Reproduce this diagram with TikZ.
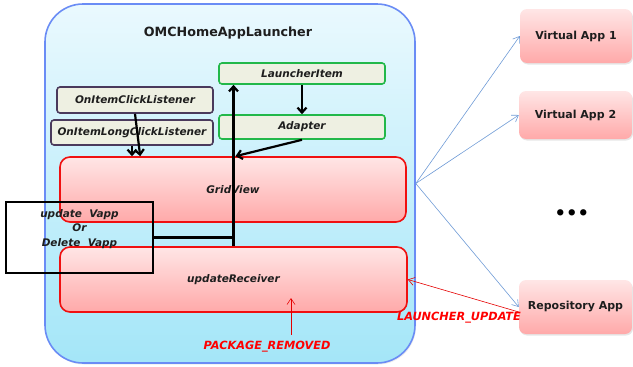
\documentclass[tikz,border=0pt]{standalone}
\usepackage{fontspec}
\setmainfont{DejaVu Sans}
\usetikzlibrary{arrows.meta,calc,shadows}
\definecolor{cyanfill}{HTML}{A4E6F8}
\definecolor{cyantop}{HTML}{EAF9FE}
\definecolor{frameblue}{HTML}{6A8CF5}
\definecolor{pinktop}{HTML}{FFE6E6}
\definecolor{pinkbot}{HTML}{FFA9A9}
\definecolor{boxred}{HTML}{F01010}
\definecolor{boxgreen}{HTML}{22B84A}
\definecolor{beige}{HTML}{EEF0E2}
\definecolor{plum}{HTML}{4A3A5C}
\definecolor{linkblue}{HTML}{6F9BD6}
\definecolor{ink}{HTML}{1E1E1E}
\tikzset{
  label font/.style={font=\bfseries\itshape\fontsize{10.5}{12}\selectfont, text=ink},
  container/.style={draw=frameblue, line width=1.6pt, rounded corners=38pt,
    top color=cyantop, bottom color=cyanfill, minimum width=370pt, minimum height=359pt},
  itembox/.style={draw=boxgreen, fill=beige, line width=1.6pt, rounded corners=3pt, label font},
  listenerbox/.style={draw=plum, fill=beige, line width=1.6pt, rounded corners=3pt, label font},
  viewbox/.style={draw=boxred, line width=1.6pt, rounded corners=10pt,
    top color=pinktop, bottom color=pinkbot, label font},
  appbox/.style={rounded corners=7pt, top color=pinktop, bottom color=pinkbot,
    font=\bfseries\fontsize{11}{13}\selectfont, text=ink,
    drop shadow={shadow xshift=1pt, shadow yshift=-1.5pt, opacity=0.2}},
  notebox/.style={draw=black, line width=2pt, align=center, label font},
  flow/.style={draw=black, line width=2.2pt, -{Straight Barb[length=5pt,width=9pt]}},
  plain/.style={draw=black, line width=2.2pt},
  bluelink/.style={draw=linkblue, line width=0.6pt, -{Straight Barb[length=6pt,width=8pt]}},
  redlink/.style={draw=red!90!black, line width=0.6pt, -{Straight Barb[length=6pt,width=8pt]}},
  intent/.style={font=\bfseries\itshape\fontsize{11.3}{13}\selectfont, text=red},
}
\begin{document}
\begin{tikzpicture}[x=1pt,y=-1pt]
\useasboundingbox (0,0) rectangle (633,367);

% launcher application frame
\node[container, drop shadow={shadow xshift=1pt, shadow yshift=-1.5pt, opacity=0.15}] (frame) at (230,183.5) {};
\node[font=\bfseries\fontsize{12.7}{15}\selectfont, text=ink] (title) at (228,33) {OMCHomeAppLauncher};

% data side
\node[itembox, minimum width=166pt, minimum height=21pt, inner sep=0pt] (launcher) at (302,73.5) {LauncherItem};
\node[itembox, minimum width=166pt, minimum height=24pt, inner sep=0pt] (adapter) at (302,127) {Adapter};

% listeners
\node[listenerbox, minimum width=156pt, minimum height=26pt, inner sep=0pt] (click) at (135,100) {OnItemClickListener};
\node[listenerbox, minimum width=162pt, minimum height=25pt, inner sep=0pt] (longclick) at (132,132.5) {OnItemLongClickListener};

% views
\node[viewbox, minimum width=346pt, minimum height=65pt] (grid) at (233,189.5) {GridView};
\node[viewbox, minimum width=347pt, minimum height=65pt] (recv) at (233.5,279.5) {updateReceiver};

% internal flow
\draw[flow] (launcher.south) -- (adapter.north);
\draw[flow] (adapter.south) -- ($(recv.north |- grid.north)+(2,0)$);
\draw[flow] (recv.north) -- (recv.north |- launcher.south);
\draw[flow] (click.south) -- ($(grid.north west)+(81,0)$);
\draw[flow] (longclick.south) -- (longclick.south |- grid.north);

% update / delete note (text sits in the upper part of the box)
\node[notebox, minimum width=147pt, minimum height=71pt, inner sep=0pt, text depth=19pt] (note) at (79.5,237.5)
  {update\ \ Vapp\\[2.5pt]Or\\[2.5pt]Delete\ \ Vapp};
\draw[plain] (note.east) -- (note.east -| recv.north);

% external applications
\node[appbox, minimum width=112pt, minimum height=54pt] (va1) at (576,36) {Virtual App 1};
\node[appbox, minimum width=113pt, minimum height=48pt] (va2) at (575.5,115) {Virtual App 2};
\node[appbox, minimum width=113pt, minimum height=54pt] (repo) at (575.5,307) {Repository App};
\node[font=\bfseries\fontsize{18}{18}\selectfont] (dots) at (572,215) {•••};

\draw[bluelink] (frame.east) -- (va1.west);
\draw[bluelink] (frame.east) -- (va2.west);
\draw[bluelink] (frame.east) -- (repo.west);

% broadcast intents
\node[intent] (lu) at (459,318) {LAUNCHER\_UPDATE};
\draw[redlink] ($(repo.west)+(0,5)$) -- (recv.east);
\node[intent] (pkg) at (267,347) {PACKAGE\_REMOVED};
\coordinate (pkgtail) at ($(pkg.north)+(24,-3)$);
\draw[redlink] (pkgtail) -- (pkgtail |- 0,298);
\end{tikzpicture}
\end{document}
